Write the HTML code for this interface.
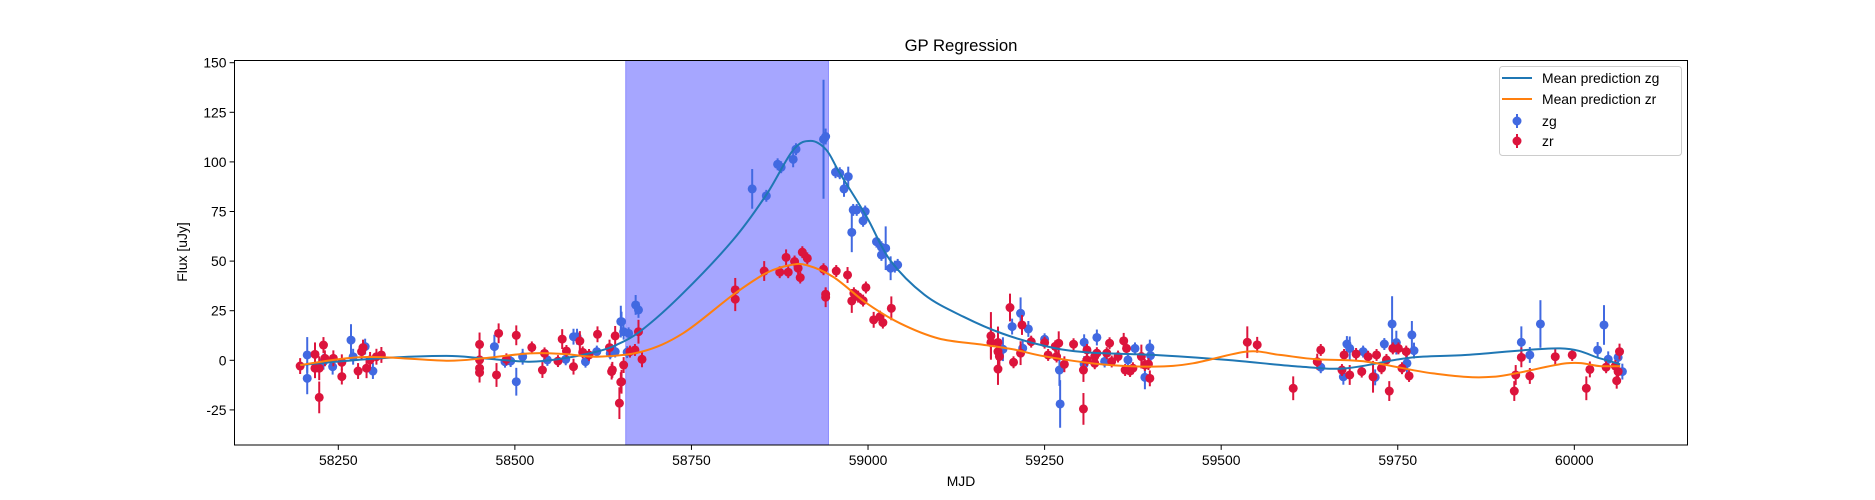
<!DOCTYPE html>
<html><head><meta charset="utf-8"><style>
html,body{margin:0;padding:0;background:#fff;}
svg{display:block;font-family:"Liberation Sans","DejaVu Sans",sans-serif;}
</style></head><body>
<svg id="chart" width="1875" height="500" viewBox="0 0 1875 500">
<rect x="0" y="0" width="1875" height="500" fill="#fff"/>
<g id="plot"></g>
<rect x="234.5" y="60.5" width="1453" height="384.5" fill="none" stroke="#000" stroke-width="1"/>
<g id="xticks"></g>
<g id="yticks"></g>
<text x="961" y="51" font-size="16.7" text-anchor="middle">GP Regression</text>
<text x="961" y="486" font-size="13.9" text-anchor="middle">MJD</text>
<text x="0" y="0" font-size="13.9" text-anchor="middle" transform="translate(187,252) rotate(-90)">Flux [uJy]</text>
<g>
<rect x="1499.5" y="66.5" width="182" height="89" rx="3" fill="#fff" fill-opacity="0.8" stroke="#ccc"/>
<g><line x1="1502" y1="78" x2="1532" y2="78" stroke="#1f77b4" stroke-width="2"/><text x="1542" y="83" font-size="13.9">Mean prediction zg</text></g>
<g><line x1="1502" y1="99" x2="1532" y2="99" stroke="#ff7f0e" stroke-width="2"/><text x="1542" y="104" font-size="13.9">Mean prediction zr</text></g>
<g><line x1="1517" y1="114" x2="1517" y2="128" stroke="#4169e1" stroke-width="2"/><circle cx="1517" cy="121" r="4.5" fill="#4169e1"/><text x="1542" y="126" font-size="13.9">zg</text></g>
<g><line x1="1517" y1="134" x2="1517" y2="148" stroke="#dc143c" stroke-width="2"/><circle cx="1517" cy="141" r="4.5" fill="#dc143c"/><text x="1542" y="146" font-size="13.9">zr</text></g>
</g>
</svg>
<script>
const xTicks=[58250,58500,58750,59000,59250,59500,59750,60000];
const yTicks=[-25,0,25,50,75,100,125,150];
const shadeRange=[58657,58944];
const meanZgMjd=[58196,58309,58403,58455,58521,58569,58616,58644,58680,58738,58809,58856,58894,58919,58941,58960,58998,59031,59080,59135,59190,59253,59310,59404,59508,59612,59678,59767,59848,59980,60036,60065];
const meanZgFlux=[-2.4,1,2.2,1,-0.7,1,4.4,7.8,15.3,33.8,60.7,83.4,106,110.6,106,94.3,72.4,50.6,33,22,13.5,7,4,2.7,0.2,-3.2,-4,1.3,2.7,6,1,-2];
const meanZrMjd=[58196,58262,58309,58403,58455,58521,58569,58616,58680,58738,58809,58856,58890,58913,58951,58998,59045,59100,59159,59206,59250,59330,59404,59460,59536,59583,59635,59706,59800,59885,59989,60036,60065];
const meanZrFlux=[-2.4,1,1.6,-0.2,1,3.5,3.2,1.8,4.4,13.6,33,44,48,48,42,28.8,18.7,11,8,5.5,2,-2,-3.2,-1.5,4.4,2.7,0.5,-0.7,-6.6,-8.3,-1.5,-2.9,-3];
const zgPoints=[[58206,2.7,9],[58206,-9.1,8],[58229,-0.7,4],[58242,-3.2,4],[58268,10.2,8],[58271,1.8,4],[58288,6.9,4],[58299,-5.4,4],[58471,6.9,6],[58486,-0.7,3],[58494,-0.4,3],[58502,-10.8,7],[58511,1.8,4],[58546,0.2,3],[58572,0.5,3],[58583,11.9,4],[58588,11.9,4],[58600,-0.7,3],[58616,4.4,3],[58635,3.5,3],[58637,5.2,3],[58642,4.4,3],[58650,19.5,8],[58651,19.5,5],[58654,14.4,4],[58659,4.1,3],[58661,13.6,3],[58671,27.9,5],[58675,25.4,4],
[58836,86.4,10],[58856,82.9,3],[58872,98.8,3],[58877,97.3,3],[58894,101.3,4],[58898,106.4,3],[58937,111.4,30],[58940,112.8,4],[58954,94.8,3],[58960,94.3,3],[58972,92.6,5],[58966,86.4,4],[58979,75.8,3],[58984,75.8,3],[58996,75,3],[58993,70.3,3],[58977,64.5,10],[59012,59.8,3],[59019,57,3],[59025,56.5,11],[59019,53.1,3],[59032,46.4,6],[59038,47.2,3],[59042,48.1,3],
[59216,23.7,8],[59204,17,4],[59227,15.8,4],[59191,5.6,6],[59219,6.1,4],[59250,10.6,3],[59271,-4.9,8],[59272,-22,12],[59306,9.1,4],[59324,11.5,4],[59306,-1.9,4],[59335,-0.6,3],[59368,0.2,3],[59378,6,3],[59399,6.4,4],[59400,2.4,3],[59392,-8.6,6],
[59641,-3.5,3],[59678,8.2,4],[59682,6,6],[59673,-8.3,4],[59701,4.4,3],[59718,-8.6,4],[59731,8.2,3],[59742,18.3,14],[59748,8.9,6],[59763,-1.5,5],[59770,12.8,7],[59773,4.9,4],[59925,9.1,8],[59937,2.7,4],[59952,18.3,12],[60033,5.2,4],[60042,17.8,10],[60048,0.5,4],[60062,1.5,4],[60068,-5.7,4]];
const zrPoints=[[58196,-2.9,4],[58217,3,6],[58217,-4,5],[58223,-4,6],[58223,-18.7,8],[58229,7.7,4],[58231,1,4],[58243,1,4],[58255,-1,4],[58255,-8.2,4],[58278,-5.4,4],[58283,4.4,4],[58285,6.4,4],[58290,-4,5],[58295,0.2,4],[58304,1.8,4],[58311,2.7,4],[58450,8,6],[58450,0.2,5],[58450,-4,5],[58450,-6.2,5],[58477,13.6,5],[58474,-7.4,6],[58488,0.5,3],[58502,12.6,5],[58524,6.5,3],[58539,-4.9,4],[58542,3.5,3],[58561,-0.4,3],[58567,10.7,5],[58573,4.7,3],[58583,-3.2,4],[58592,9.7,5],[58596,4,3],[58605,2.7,3],[58617,13.1,4],[58634,6.4,4],[58637,-5.7,4],[58642,12.3,5],[58651,-10.8,6],[58648,-21.6,8],[58654,-2.4,4],[58675,14.4,6],[58680,0.5,4],[58663,4.4,3],[58670,5.2,3],[58638,-4.8,4],[58650,-11,5],
[58812,35.5,6],[58812,30.8,6],[58853,45,5],[58875,44.4,3],[58884,51.9,4],[58887,44.4,3],[58896,49.8,3],[58904,41.7,3],[58901,46.4,3],[58907,54.5,3],[58914,51.4,3],[58937,45.9,3],[58940,31.8,5],[58940,33.3,3],[58955,45,3],[58971,43,4],[58977,29.9,6],[58980,33.8,3],[58986,32.1,3],[58993,30.1,3],[58997,36.7,3],[59008,20.4,4],[59017,22,3],[59021,19,3],[59033,26.2,6],
[59174,12.3,12],[59174,9,8],[59184,9,8],[59184,4.4,8],[59186,1.9,6],[59184,-4.4,8],[59201,26.6,7],[59206,-1,3],[59218,17.8,5],[59216,3.6,6],[59231,9.4,3],[59250,8.9,3],[59255,2.7,3],[59265,7,3],[59270,8.6,6],[59267,1.9,3],[59278,-2,4],[59291,8.1,3],[59305,-24.5,8],[59305,-4.9,6],[59310,5.2,3],[59310,0.2,3],[59321,1.9,3],[59321,-1.5,3],[59324,3.6,3],[59338,3.6,3],[59342,8.6,3],[59345,-0.6,3],[59354,1.9,3],[59362,9.8,4],[59366,6,3],[59364,-4.9,3],[59371,-5.4,3],[59375,-4,3],[59387,1.9,6],[59392,-2.4,3],[59397,-1.9,3],[59399,-9.1,4],[59537,9.1,8],[59551,7.8,4],[59602,-14.1,6],
[59636,-0.7,4],[59641,5.2,3],[59671,-4.9,3],[59674,2.7,3],[59682,-7.4,5],[59691,3.2,3],[59699,-5.7,3],[59708,1.8,3],[59715,-8.3,8],[59720,2.7,3],[59727,-4,3],[59734,0.2,3],[59738,-15.5,5],[59743,6,3],[59751,6,3],[59756,-4,3],[59762,4.4,3],[59766,-7.9,3],[59917,-7.4,5],[59915,-15.5,5],[59925,1.5,5],[59937,-7.9,4],[59973,1.8,4],[59997,2.7,3],[60017,-14.1,6],[60022,-4.6,4],[60045,-3.5,3],[60058,-2.9,3],[60060,-10.3,4],[60064,4.4,4],[60062,-5.7,3]];

const NS='http://www.w3.org/2000/svg';
const X0=234.5,X1=1687.5,Y0=60,Y1=445;
function xs(v){return 338.3+(v-58250)*0.7063;}
function ys(v){return 360.3-v*1.984;}
function mk(tag,attrs,parent){const e=document.createElementNS(NS,tag);for(const k in attrs)e.setAttribute(k,attrs[k]);parent.appendChild(e);return e;}
const plot=document.getElementById('plot');
const clip=mk('clipPath',{id:'clipA'},mk('defs',{},plot));
mk('rect',{x:X0,y:Y0,width:X1-X0,height:Y1-Y0},clip);
const pg=mk('g',{'clip-path':'url(#clipA)'},plot);
const sh=mk('rect',{x:xs(shadeRange[0]),y:Y0,width:xs(shadeRange[1])-xs(shadeRange[0]),height:Y1-Y0,fill:'#a6a6ff',stroke:'#8c8cff','stroke-width':1},pg);


function smooth(mj,fl){const p=mj.map((m,i)=>[xs(m),ys(fl[i])]);let d='M'+p[0][0].toFixed(1)+','+p[0][1].toFixed(1);
for(let i=0;i<p.length-1;i++){const a=p[i-1]||p[i],b=p[i],c=p[i+1],e=p[i+2]||c;
const c1=[b[0]+(c[0]-a[0])/6,b[1]+(c[1]-a[1])/6],c2=[c[0]-(e[0]-b[0])/6,c[1]-(e[1]-b[1])/6];
d+='C'+c1[0].toFixed(1)+','+c1[1].toFixed(1)+' '+c2[0].toFixed(1)+','+c2[1].toFixed(1)+' '+c[0].toFixed(1)+','+c[1].toFixed(1);}return d;}
function drawPoints(pts,color,name){const g=mk('g',{},pg);


pts.forEach(p=>{const x=xs(p[0]);
const l=mk('line',{x1:x,x2:x,y1:ys(p[1]-p[2]),y2:ys(p[1]+p[2]),stroke:color,'stroke-width':2},g);


const c=mk('circle',{cx:x,cy:ys(p[1]),r:4.5,fill:color},g);

});}
drawPoints(zgPoints,'#4169e1','zg');
drawPoints(zrPoints,'#dc143c','zr');
const lz=mk('path',{d:smooth(meanZgMjd,meanZgFlux),fill:'none',stroke:'#1f77b4','stroke-width':2},pg);


const lr=mk('path',{d:smooth(meanZrMjd,meanZrFlux),fill:'none',stroke:'#ff7f0e','stroke-width':2},pg);


const xg=document.getElementById('xticks');
xTicks.forEach(t=>{const x=xs(t);
const l=mk('line',{x1:x,x2:x,y1:Y1,y2:Y1+4.9,stroke:'#000','stroke-width':1},xg);


const tx=mk('text',{x:x,y:Y1+20,'font-size':13.9,'text-anchor':'middle'},xg);tx.textContent=t;

});
const yg=document.getElementById('yticks');
yTicks.forEach(t=>{const y=ys(t);
const l=mk('line',{x1:X0-4.9,x2:X0,y1:y,y2:y,stroke:'#000','stroke-width':1},yg);


const tx=mk('text',{x:X0-8,y:y+5,'font-size':13.9,'text-anchor':'end'},yg);tx.textContent=t;

});
</script>
</body></html>
